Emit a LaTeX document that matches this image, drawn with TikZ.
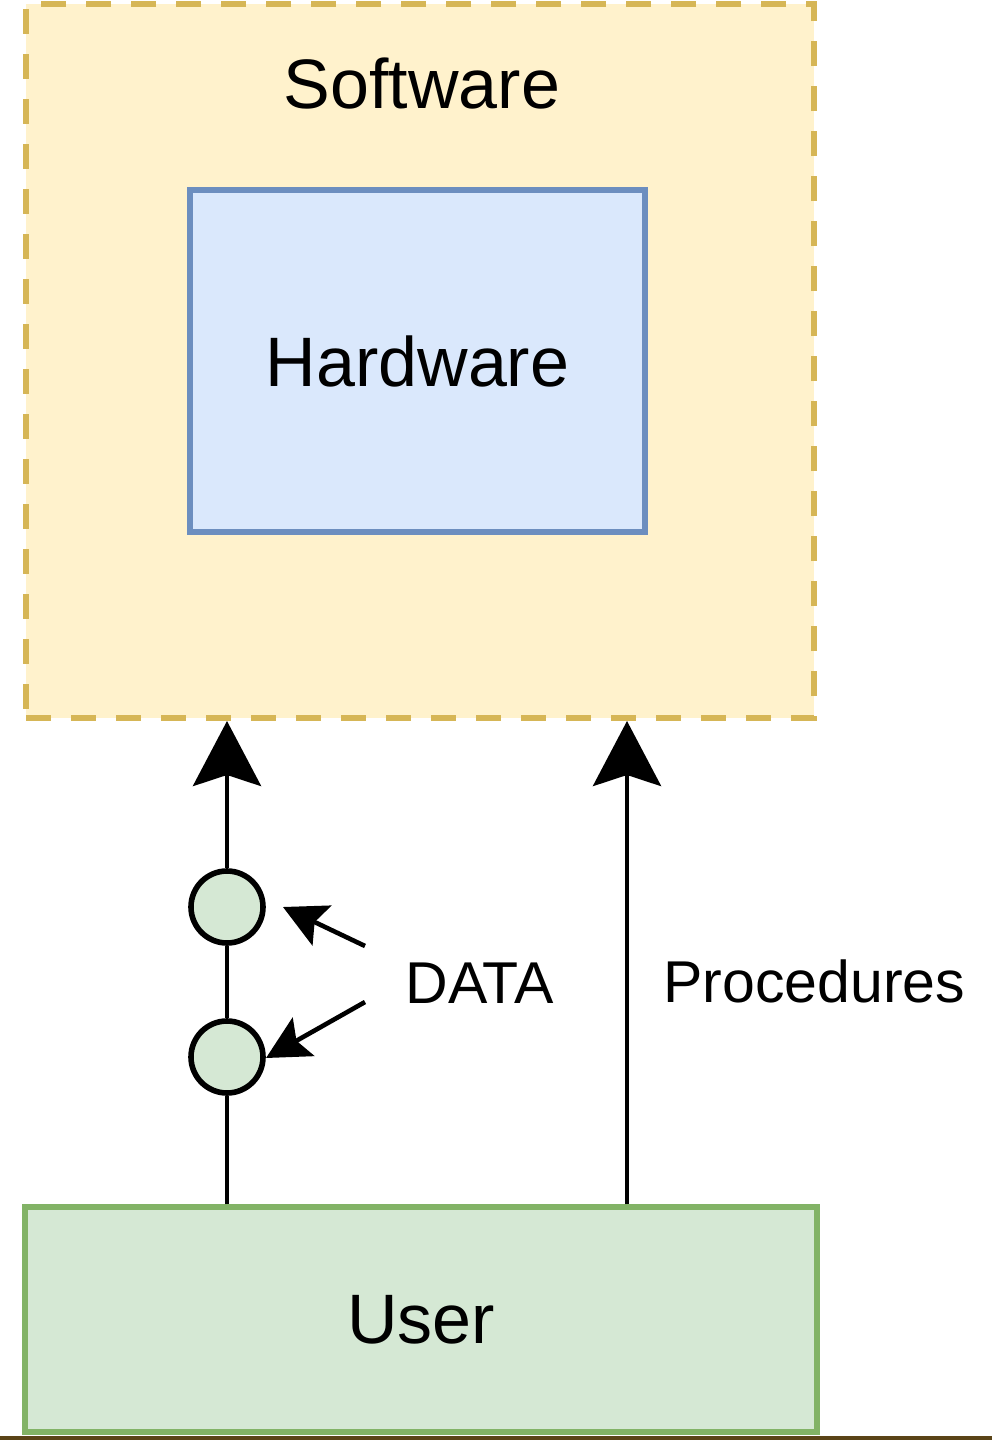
\documentclass[tikz,border=0pt]{standalone}
\usepackage{fontspec}
\setmainfont{Liberation Sans}
\usetikzlibrary{arrows.meta}
\definecolor{swfill}{HTML}{FFF2CC}
\definecolor{swdraw}{HTML}{D6B656}
\definecolor{hwfill}{HTML}{DAE8FC}
\definecolor{hwdraw}{HTML}{6C8EBF}
\definecolor{usfill}{HTML}{D5E8D4}
\definecolor{usdraw}{HTML}{82B366}
\definecolor{edgeline}{HTML}{5A4418}
\tikzset{
  swbox/.style={rectangle, draw=swdraw, fill=swfill, line width=3pt,
    dash pattern=on 12.5pt off 10pt, inner sep=0pt},
  hwbox/.style={rectangle, draw=hwdraw, fill=hwfill, line width=2.75pt, inner sep=0pt,
    font=\fontsize{35}{42}\selectfont},
  usbox/.style={rectangle, draw=usdraw, fill=usfill, line width=2.75pt, inner sep=0pt,
    font=\fontsize{35}{42}\selectfont},
  dot/.style={circle, draw=black, fill=usfill, line width=2.8pt, minimum size=36pt, inner sep=0pt},
  bigtxt/.style={inner sep=0pt, font=\fontsize{35}{42}\selectfont},
  smalltxt/.style={inner sep=0pt, font=\fontsize{29.5}{35}\selectfont},
  flow/.style={line width=2.3pt, draw=black},
  bigarrow/.style={flow, -{Stealth[length=32.5pt,width=34pt,inset=5.5pt]}},
  smallarrow/.style={flow, -{Stealth[length=21.5pt,width=22pt,inset=4pt]}},
}
\begin{document}
\begin{tikzpicture}[x=0.5pt,y=-0.5pt]
\useasboundingbox (0,0) rectangle (992,1440);
% bottom edge rule
\fill[edgeline] (0,1436) rectangle (992,1440);
% boxes
\node[swbox, minimum width=394pt, minimum height=357pt] (sw) at (420,361) {};
\node[bigtxt, anchor=base] (swlabel) at (422,108) {Software};
\node[hwbox, minimum width=227.5pt, minimum height=171pt] (hw) at (417.5,361) {Hardware};
\node[usbox, minimum width=396pt, minimum height=112.5pt] (us) at (421,1319.5) {\raisebox{-1.5pt}{User}};
% circles
\node[dot] (c1) at (227,907) {};
\node[dot] (c2) at (227,1057) {};
% main connectors
\coordinate (uL) at (us.north -| c2);
\coordinate (sL) at (sw.south -| c1);
\coordinate (uR) at (us.north -| 627,0);
\coordinate (sR) at (sw.south -| 627,0);
\draw[flow] (uL) -- (c2);
\draw[flow] (c2) -- (c1);
\draw[bigarrow] (c1) -- (sL);
\draw[bigarrow] (uR) -- (sR);
% data arrows
\coordinate (d1t) at (365,946);
\coordinate (d1h) at (283,907);
\coordinate (d2t) at (365,1002);
\coordinate (d2h) at (266,1058);
\draw[smallarrow] (d1t) -- (d1h);
\draw[smallarrow] (d2t) -- (d2h);
% labels
\node[smalltxt, anchor=base west] (data) at (405,1003) {DATA};
\node[smalltxt, anchor=base west] (proc) at (663,1002) {Procedures};
\end{tikzpicture}
\end{document}
